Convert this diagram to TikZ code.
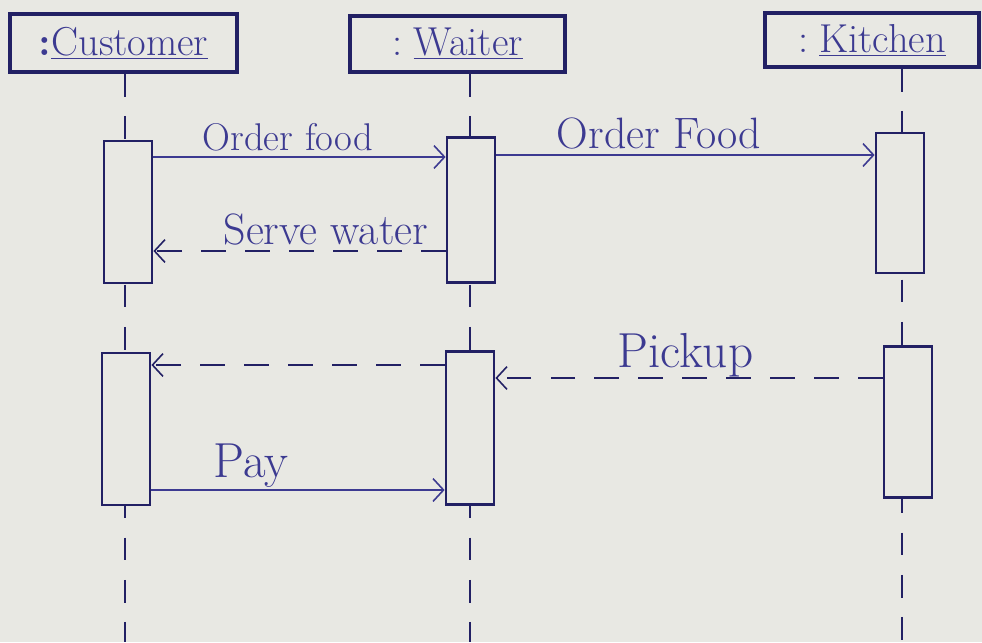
\documentclass[tikz,border=0pt]{standalone}
\usetikzlibrary{arrows.meta, positioning, calc}
\definecolor{ink}{RGB}{34,32,100}
\definecolor{inkLight}{RGB}{60,58,145}
\definecolor{paper}{RGB}{232,232,227}
\tikzset{
    >={Straight Barb[length=6pt, width=13pt, line width=0.9pt]},
    % Shapes
    objbox/.style={rectangle, draw=ink, line width=2pt, fill=paper,
                   inner sep=0pt, align=center, text=inkLight,
                   font=\fontsize{23}{27}\selectfont},
    actbar/.style={rectangle, draw=ink, line width=1.6pt, fill=paper,
                   minimum width=0.96cm, inner sep=0pt},
    % Lines & Labels
    life/.style={draw=ink, line width=1.2pt, dash pattern=on 13pt off 11pt},
    call/.style={->, draw=inkLight, line width=0.9pt},
    reply/.style={->, draw=ink, line width=1.1pt, dash pattern=on 14pt off 11pt},
    lbl/.style={text=inkLight, inner sep=3pt}
}
\begin{document}
\begin{tikzpicture}[x=0.02cm, y=-0.02cm]

% paper and page size
\fill[paper] (0,0) rectangle (982,642);
\useasboundingbox (0,0) rectangle (982,642);

% objects
\node[objbox, minimum width=4.54cm, minimum height=1.16cm] (cust) at (123.5,43) {\textbf{:}\underline{Customer}};
\node[objbox, minimum width=4.30cm, minimum height=1.12cm] (waiter) at (457.5,44) {:\;\underline{Waiter}};
\node[objbox, minimum width=4.28cm, minimum height=1.08cm] (kitchen) at (872,40) {:\;\underline{Kitchen}};

% lifeline ends
\coordinate (custEnd) at (125,642);
\coordinate (waiterEnd) at (470,642);
\coordinate (kitchenEnd) at (902,642);

% lifelines
\draw[life] (cust.south -| custEnd) -- (custEnd);
\draw[life] (waiter.south -| waiterEnd) -- (waiterEnd);
\draw[life] (kitchen.south -| kitchenEnd) -- (kitchenEnd);

% activations
\node[actbar, minimum height=2.84cm] (c1) at (128,212) {};
\node[actbar, minimum height=2.90cm] (w1) at (471,210) {};
\node[actbar, minimum height=2.80cm] (k1) at (900,203) {};
\node[actbar, minimum height=3.04cm] (c2) at (126,429) {};
\node[actbar, minimum height=3.06cm] (w2) at (470,428) {};
\node[actbar, minimum height=3.02cm] (k2) at (908,422) {};

% message heights
\coordinate (m1) at (0,157);
\coordinate (m2) at (0,155);
\coordinate (m3) at (0,251);
\coordinate (m4) at (0,365);
\coordinate (m5) at (0,378);
\coordinate (m6) at (0,490);

% messages
\draw[call] (c1.east |- m1) -- node[lbl, above, pos=0.46, font=\fontsize{22}{26}\selectfont] {Order food} (w1.west |- m1);
\draw[call] (w1.east |- m2) -- node[lbl, above, pos=0.43, font=\fontsize{25}{30}\selectfont] {Order Food} (k1.west |- m2);
\draw[reply] (w1.west |- m3) -- node[lbl, above, pos=0.41, font=\fontsize{25}{30}\selectfont] {Serve water} (c1.east |- m3);
\draw[reply] (w2.west |- m4) -- (c2.east |- m4);
\draw[reply] (k2.west |- m5) -- node[lbl, above, pos=0.51, inner sep=0pt, font=\fontsize{28}{33}\selectfont] {Pickup} (w2.east |- m5);
\draw[call, line width=1.1pt] (c2.east |- m6) -- node[lbl, above, pos=0.34, inner sep=1pt, font=\fontsize{28}{33}\selectfont] {Pay} (w2.west |- m6);

\end{tikzpicture}
\end{document}
